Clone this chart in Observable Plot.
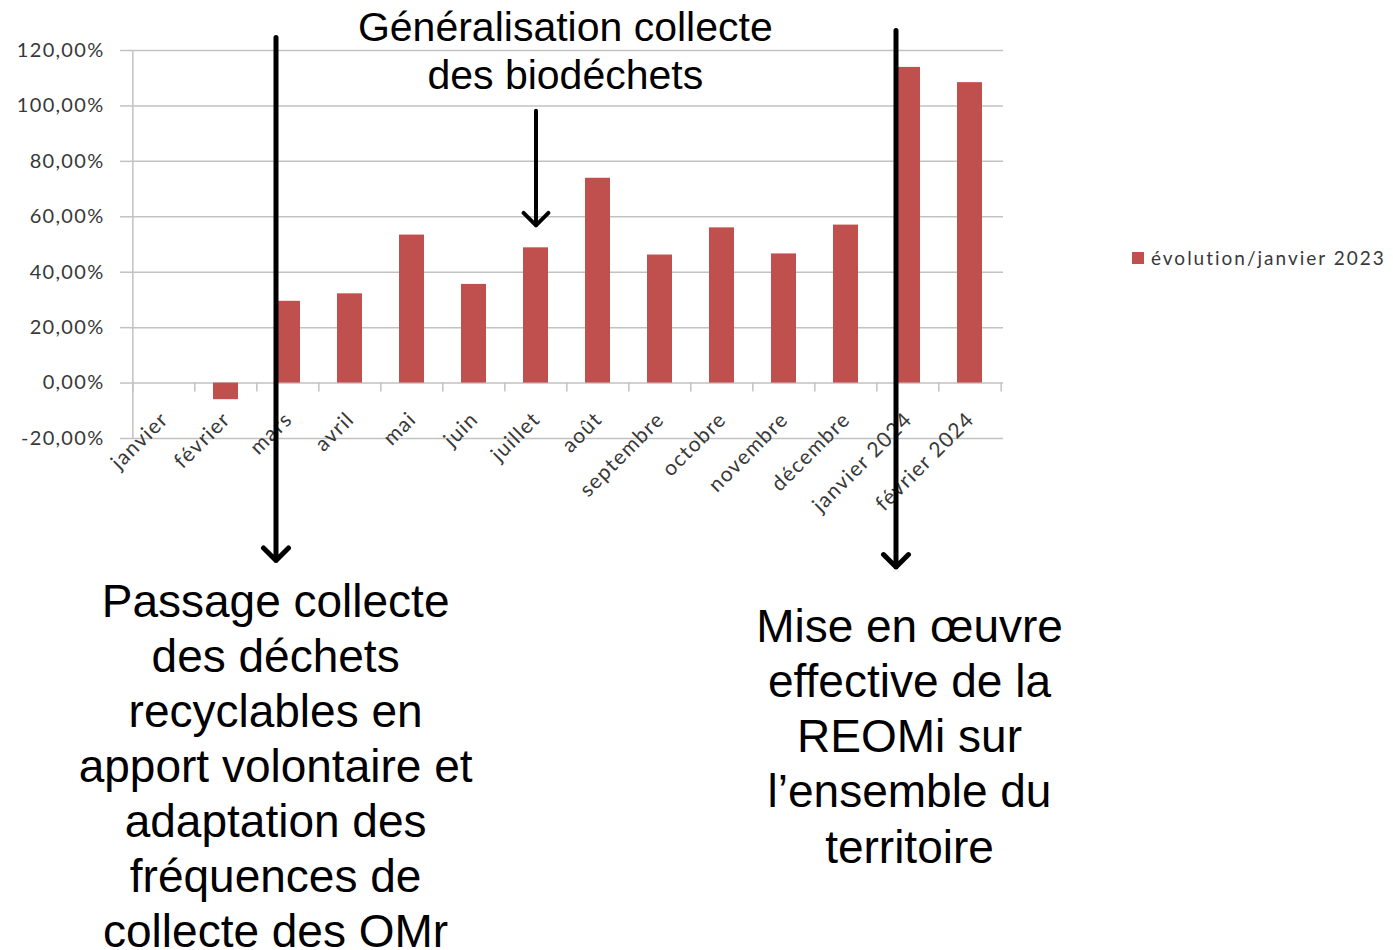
<!DOCTYPE html>
<html><head><meta charset="utf-8">
<script src="https://cdn.jsdelivr.net/npm/d3@7"></script>
<script src="https://cdn.jsdelivr.net/npm/@observablehq/plot@0.6"></script>
<style>
html,body{margin:0;padding:0;background:#fff;overflow:hidden}
#wrap{position:relative;width:1393px;height:950px}
#legend{position:absolute;left:1132px;top:241px;width:261px}
#legend, #legend *{font-family:Lato !important;font-size:19px !important;letter-spacing:2px;color:#383838 !important;white-space:nowrap !important}
#legend > div{flex-wrap:nowrap !important}
#legend svg{margin-right:7px !important}
svg g[font-family="Liberation Sans"]{letter-spacing:0}
</style></head><body>
<div id="wrap"><div id="chart"></div><div id="legend"></div></div>
<script>
const months = ["janvier","février","mars","avril","mai","juin","juillet","août","septembre","octobre","novembre","décembre","janvier 2024","février 2024"];
const values = [0, -6.0, 29.5, 32.2, 53.4, 35.6, 48.8, 73.9, 46.2, 56.0, 46.6, 57.0, 113.9, 108.4];
const yTicks = [-20, 0, 20, 40, 60, 80, 100, 120];
const seriesName = "évolution/janvier 2023";
const barColor = "#c0504d";
const gridColor = "#c2c2c2";
const textColor = "#383838";

const annTop = ["Généralisation collecte\ndes biodéchets"];
const annLeft = ["Passage collecte\ndes déchets\nrecyclables en\napport volontaire et\nadaptation des\nfréquences de\ncollecte des OMr"];
const annRight = ["Mise en œuvre\neffective de la\nREOMi sur\nl’ensemble du\nterritoire"];

const W = 1393, H = 950, ML = 130, MR = 390, MT = 50, MB = 512;
const step = (W - ML - MR) / months.length;

const data = months.map((m, i) => ({month: m, value: values[i]}));
const fmt = d => d.toFixed(2).replace(".", ",") + "%";

const plot = Plot.plot({
  width: W, height: H,
  marginLeft: ML, marginRight: MR, marginTop: MT, marginBottom: MB,
  style: {fontFamily: "Lato", letterSpacing: "1.3px", background: "white"},
  x: {domain: months, paddingInner: 0.6, paddingOuter: 0.3, axis: null},
  y: {domain: [-20, 120], axis: null},
  marks: [
    Plot.ruleY(yTicks, {stroke: gridColor, strokeWidth: 1.5}),
    Plot.ruleX([months[0]], {x: d => d, dx: -step / 2, y1: -20, y2: 120, stroke: gridColor, strokeWidth: 1.5}),
    Plot.ruleX(months, {x: d => d, dx: -step / 2, y1: 0, y2: -3.2, stroke: gridColor, strokeWidth: 1.5}),
    Plot.ruleX([months[months.length - 1]], {x: d => d, dx: step / 2, y1: 0, y2: -3.2, stroke: gridColor, strokeWidth: 1.5}),
    Plot.axisY({ticks: yTicks, tickSize: 10, tickPadding: 16, stroke: gridColor, strokeWidth: 1.5, fill: textColor, fontSize: 20, tickFormat: fmt}),
    Plot.barY(data, {x: "month", y: "value", fill: barColor}),
    Plot.text(months, {x: d => d, y: () => 0, text: d => d, rotate: -45, textAnchor: "end", lineAnchor: "top", dx: -5, dy: 27, fontSize: 21, fill: textColor}),
    Plot.arrow([{x: "mars", y1: 124.7, y2: -64.0}, {x: "janvier 2024", y1: 127.2, y2: -66.4}], {x: "x", y1: "y1", y2: "y2", dx: -12, stroke: "black", strokeWidth: 5, headLength: 5.3, headAngle: 90}),
    Plot.arrow([{x: "juillet", y1: 98.3, y2: 56.9}], {x: "x", y1: "y1", y2: "y2", stroke: "black", strokeWidth: 4, headLength: 6.6, headAngle: 90}),
    Plot.text(annTop, {x: () => "août", y: () => 135.8, text: d => d, dx: -32.7, lineAnchor: "top", lineHeight: 1.17, fontSize: 41, fontFamily: "Liberation Sans", fill: "black"}),
    Plot.text(annLeft, {x: () => "mars", y: () => -70.2, text: d => d, dx: -12.4, lineAnchor: "top", lineHeight: 1.196, fontSize: 46, fontFamily: "Liberation Sans", fill: "black"}),
    Plot.text(annRight, {x: () => "janvier 2024", y: () => -79.5, text: d => d, dx: 1.5, lineAnchor: "top", lineHeight: 1.196, fontSize: 46, fontFamily: "Liberation Sans", fill: "black"})
  ]
});
document.getElementById("chart").appendChild(plot);

const legend = Plot.legend({color: {type: "ordinal", domain: [seriesName], range: [barColor]}, legend: "swatches", swatchSize: 12});
document.getElementById("legend").appendChild(legend);
</script>
</body></html>
